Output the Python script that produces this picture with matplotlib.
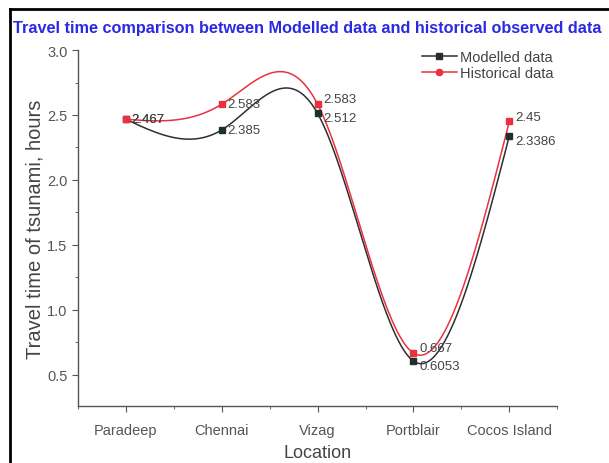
import numpy as np
import matplotlib
matplotlib.use("Agg")
import matplotlib.pyplot as plt
from matplotlib.lines import Line2D
from matplotlib.ticker import MultipleLocator, FixedLocator

locations = ["Paradeep", "Chennai", "Vizag", "Portblair", "Cocos Island"]
modelled = [2.467, 2.385, 2.512, 0.6053, 2.3386]
historical = [2.467, 2.583, 2.583, 0.667, 2.45]
modelled_labels = ["2.467", "2.385", "2.512", "0.6053", "2.3386"]
historical_labels = ["2.467", "2.583", "2.583", "0.667", "2.45"]


def natural_spline(x, y, n=400):
    x = np.asarray(x, float)
    y = np.asarray(y, float)
    k = len(x)
    h = np.diff(x)
    A = np.zeros((k, k))
    b = np.zeros(k)
    A[0, 0] = A[-1, -1] = 1.0
    for i in range(1, k - 1):
        A[i, i - 1] = h[i - 1]
        A[i, i] = 2 * (h[i - 1] + h[i])
        A[i, i + 1] = h[i]
        b[i] = 3 * ((y[i + 1] - y[i]) / h[i] - (y[i] - y[i - 1]) / h[i - 1])
    c = np.linalg.solve(A, b)
    xs = np.linspace(x[0], x[-1], n)
    ys = np.empty_like(xs)
    for j, xv in enumerate(xs):
        i = min(np.searchsorted(x, xv, side="right") - 1, k - 2)
        dx = xv - x[i]
        bi = (y[i + 1] - y[i]) / h[i] - h[i] * (2 * c[i] + c[i + 1]) / 3
        di = (c[i + 1] - c[i]) / (3 * h[i])
        ys[j] = y[i] + bi * dx + c[i] * dx ** 2 + di * dx ** 3
    return xs, ys


plt.rcParams["font.family"] = ["Liberation Sans", "DejaVu Sans"]

fig = plt.figure(figsize=(6.09, 4.64), dpi=100)
ax = fig.add_axes([0.128, 0.123, 0.787, 0.767])

xpos = np.arange(len(locations))
black_c = "#2f2f2f"
red_c = "#e8323f"

xs, ys = natural_spline(xpos, modelled)
ax.plot(xs, ys, color=black_c, lw=1.1, zorder=2)
xs, ys = natural_spline(xpos, historical)
ax.plot(xs, ys, color=red_c, lw=1.1, zorder=3)

ax.plot(xpos, modelled, ls="none", marker="s", ms=5, color="#1f2f2f", zorder=4)
ax.plot(xpos, historical, ls="none", marker="s", ms=5, color=red_c, zorder=5)

# value labels; close pairs are spread apart a little so they stay legible
for xi, vm, vh, tm, th in zip(xpos, modelled, historical,
                              modelled_labels, historical_labels):
    gap = abs(vh - vm)
    spread = 3.5 if 0 < gap < 0.12 else 0
    ax.annotate(tm, (xi, vm), xytext=(4, -spread), textcoords="offset points",
                fontsize=9.5, color="#444444", va="center", ha="left", zorder=6)
    ax.annotate(th, (xi, vh), xytext=(4, spread), textcoords="offset points",
                fontsize=9.5, color="#444444", va="center", ha="left", zorder=6)

ax.set_xlim(-0.5, 4.5)
ax.set_ylim(0.26, 3.0)
ax.set_xticks(xpos)
ax.set_xticklabels(locations)
ax.xaxis.set_minor_locator(FixedLocator(np.arange(-0.5, 5.0, 1.0)))
ax.yaxis.set_major_locator(MultipleLocator(0.5))
ax.yaxis.set_minor_locator(MultipleLocator(0.25))

for s in ["top", "right"]:
    ax.spines[s].set_visible(False)
for s in ["left", "bottom"]:
    ax.spines[s].set_color("#555555")
    ax.spines[s].set_linewidth(1.0)
ax.tick_params(which="major", direction="out", length=4, color="#555555",
               labelsize=10.5, labelcolor="#555555")
ax.tick_params(which="minor", direction="out", length=2, color="#555555")
ax.tick_params(axis="x", which="major", pad=8)

ax.set_xlabel("Location", fontsize=13, color="#444444", labelpad=5)
ax.set_ylabel("Travel time of tsunami, hours", fontsize=14.5, color="#444444", labelpad=2)

handles = [
    Line2D([], [], color=black_c, marker="s", ms=4.5, lw=1.1, mfc="#1f2f2f"),
    Line2D([], [], color=red_c, marker="o", ms=4.5, lw=1.1),
]
ax.legend(handles, ["Modelled data", "Historical data"], loc="upper right",
          bbox_to_anchor=(1.01, 1.025), frameon=False, fontsize=10.5,
          labelcolor="#444444", handlelength=2.4, handletextpad=0.2,
          labelspacing=0.15, borderaxespad=0.2)

fig.text(0.022, 0.938, "Travel time comparison between Modelled data and historical observed data",
         fontsize=11.7, fontweight="bold", color="#2a2ae0", ha="left", va="center")

# frame lines along the top and left edges
fig.add_artist(Line2D([0.016, 1.0], [0.978, 0.978], transform=fig.transFigure,
                      color="black", lw=2))
fig.add_artist(Line2D([0.016, 0.016], [0.0, 0.978], transform=fig.transFigure,
                      color="black", lw=2))

fig.savefig("out.png", dpi=100)
